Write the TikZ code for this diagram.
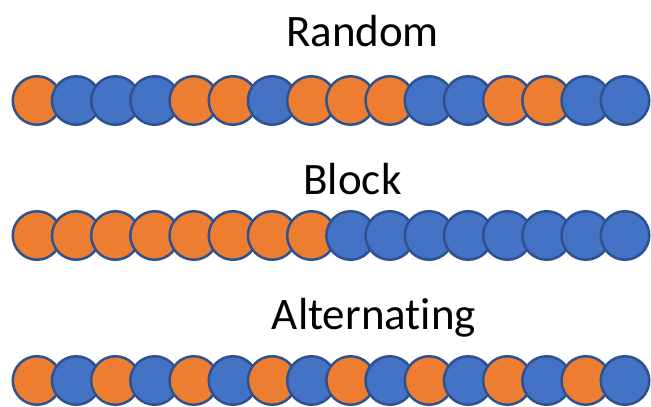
\documentclass[tikz,border=0pt]{standalone}
\usepackage{fontspec}
\setmainfont[Ligatures=NoCommon]{Carlito}
\definecolor{bead orange}{HTML}{ED7D31}
\definecolor{bead blue}{HTML}{4472C4}
\definecolor{bead edge}{HTML}{2F528F}
\begin{document}
\begin{tikzpicture}[x=1pt,y=1pt,
  bead/.style={circle,draw=bead edge,line width=2.5pt,minimum size=48.5pt,inner sep=0pt},
  O/.style={bead,fill=bead orange},
  B/.style={bead,fill=bead blue},
  title/.style={anchor=base,font=\fontsize{45}{54}\selectfont,text=black,inner sep=0pt}]
\useasboundingbox (0,0) rectangle (651,407);
\node[title] (t1) at (362.5,360.3) {Random};
\node[title] (t2) at (352.5,212) {Block};
\node[title] (t3) at (374,77) {Alternating};
\foreach \c [count=\i from 0] in {O,B,B,B,O,O,B,O,O,O,B,B,O,O,B,B}
  \node[\c] (r\i) at (37+39.2*\i,306.5) {};
\foreach \c [count=\i from 0] in {O,O,O,O,O,O,O,O,B,B,B,B,B,B,B,B}
  \node[\c] (b\i) at (37+39.2*\i,171.5) {};
\foreach \c [count=\i from 0] in {O,B,O,B,O,B,O,B,O,B,O,B,O,B,O,B}
  \node[\c] (a\i) at (37+39.2*\i,26.5) {};
\end{tikzpicture}
\end{document}
